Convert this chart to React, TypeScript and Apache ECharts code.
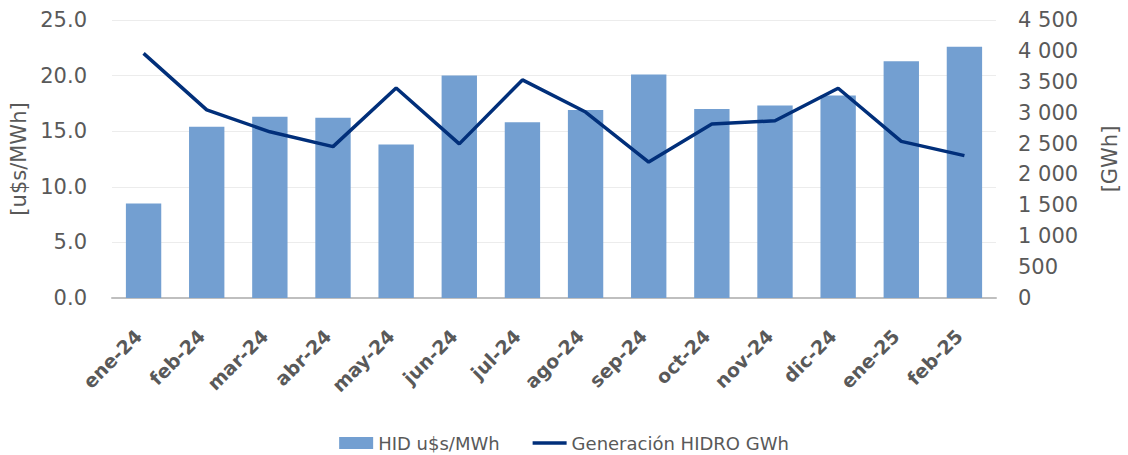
import React, { useEffect, useRef } from "react";
import * as echarts from "echarts";

const categories = ["ene-24", "feb-24", "mar-24", "abr-24", "may-24", "jun-24", "jul-24", "ago-24", "sep-24", "oct-24", "nov-24", "dic-24", "ene-25", "feb-25"];
const priceValues = [8.5, 15.4, 16.3, 16.2, 13.8, 20.0, 15.8, 16.9, 20.1, 17.0, 17.3, 18.2, 21.3, 22.6];
const genValues = [3960, 3045, 2690, 2450, 3400, 2495, 3530, 3010, 2200, 2815, 2870, 3395, 2535, 2305];
const leftTicks = { min: 0, max: 25, interval: 5 };
const rightTicks = { min: 0, max: 4500, interval: 500 };

const FONT = "DejaVu Sans";
const TXT = "#595959";
const LINE_COLOR = "#012f7a";

function fmtThousands(v: number): string {
  if (v < 1000) return String(v);
  const th = Math.floor(v / 1000);
  const rest = String(v % 1000).padStart(3, "0");
  return th + " " + rest;
}

export default function App() {
  const ref = useRef<HTMLDivElement>(null);
  useEffect(() => {
    document.body.style.margin = "0";
    if (!ref.current) return;
    const chart = echarts.init(ref.current, undefined, { renderer: "svg" });
    chart.setOption({
      animation: false,
      textStyle: { fontFamily: FONT },
      grid: { left: 112, right: 123, top: 20, bottom: 157 },
      legend: {
        top: 429,
        left: "center",
        itemWidth: 34,
        itemHeight: 12,
        itemGap: 33,
        textStyle: { fontFamily: FONT, fontSize: 18, color: TXT },
        data: [
          { name: "HID u$s/MWh", icon: "rect" },
          { name: "Generación HIDRO GWh", icon: "path://M0,0 L38,0 L38,4 L0,4 Z", itemStyle: { color: LINE_COLOR } },
        ],
      },
      xAxis: {
        type: "category",
        data: categories,
        axisLine: { lineStyle: { color: "#bfbfbf", width: 2 } },
        axisTick: { show: false },
        axisLabel: {
          interval: 0,
          rotate: 45,
          margin: 16,
          align: "right",
          verticalAlign: "top",
          padding: [0, 17, 0, 0],
          fontFamily: FONT,
          fontWeight: "bold",
          fontSize: 19,
          color: TXT,
        },
      },
      yAxis: [
        {
          type: "value",
          min: leftTicks.min,
          max: leftTicks.max,
          interval: leftTicks.interval,
          name: "[u$s/MWh]",
          nameLocation: "middle",
          nameGap: 80,
          nameTextStyle: { fontFamily: FONT, fontSize: 21, color: TXT },
          axisLine: { show: false },
          axisTick: { show: false },
          axisLabel: {
            margin: 25,
            fontFamily: FONT,
            fontSize: 21,
            color: TXT,
            formatter: (v: number) => v.toFixed(1),
          },
          splitLine: { lineStyle: { color: "#ececec", width: 1 } },
        },
        {
          type: "value",
          min: rightTicks.min,
          max: rightTicks.max,
          interval: rightTicks.interval,
          name: "[GWh]",
          nameLocation: "middle",
          nameGap: 103,
          nameTextStyle: { fontFamily: FONT, fontSize: 21, color: TXT },
          axisLine: { show: false },
          axisTick: { show: false },
          axisLabel: {
            margin: 22,
            fontFamily: FONT,
            fontSize: 21,
            color: TXT,
            formatter: (v: number) => fmtThousands(v),
          },
          splitLine: { show: false },
        },
      ],
      series: [
        {
          name: "HID u$s/MWh",
          type: "bar",
          yAxisIndex: 0,
          data: priceValues,
          barWidth: "56%",
          itemStyle: { color: "#739fd1" },
        },
        {
          name: "Generación HIDRO GWh",
          type: "line",
          yAxisIndex: 1,
          data: genValues,
          symbol: "none",
          lineStyle: { color: LINE_COLOR, width: 3.5 },
          itemStyle: { color: LINE_COLOR },
        },
      ],
    });
    return () => chart.dispose();
  }, []);
  return <div ref={ref} style={{ width: 1128, height: 455 }} />;
}
